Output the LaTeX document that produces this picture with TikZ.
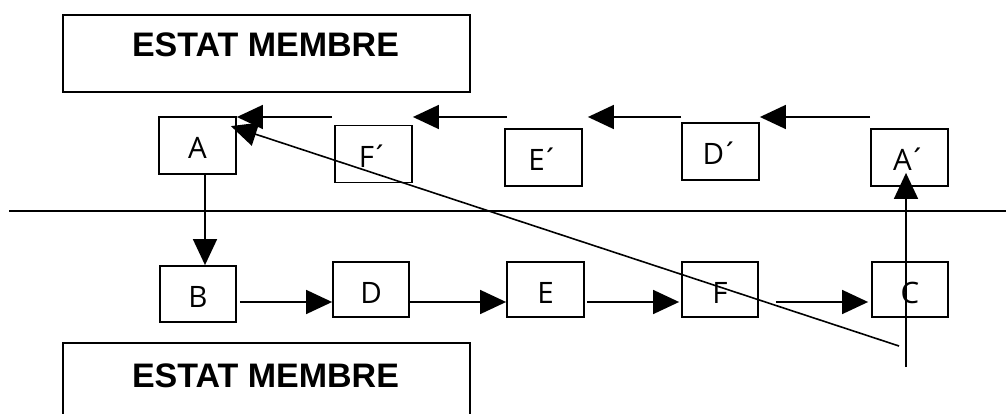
\documentclass[tikz,border=0pt]{standalone}
\usepackage{fontspec}
\setmainfont{Open Sans}
\newfontfamily\titlefont{Liberation Sans}
\usetikzlibrary{arrows.meta}

\newcommand{\primed}[1]{#1\kern-3pt´}

\begin{document}
\begin{tikzpicture}[x=1pt,y=-1pt,
  box/.style={draw, line width=1.8pt, minimum width=77pt, minimum height=57pt,
    inner sep=0pt, text height=27pt, text depth=0pt,
    font=\fontsize{29.5}{32}\selectfont},
  statebox/.style={draw, line width=1.8pt, minimum width=407pt, minimum height=77pt, inner sep=0pt},
  statetext/.style={anchor=base, inner sep=0pt, font=\titlefont\bfseries\fontsize{34}{38}\selectfont},
  conn/.style={line width=1.6pt, -{Triangle[length=26pt,width=24pt]}},
  plain/.style={line width=1.6pt}]

\useasboundingbox (0,0) rectangle (1006,414);
\clip (0,0) rectangle (1006,414);

% the two member states
\node[statebox] (stateT) at (266.5,53.5) {};
\node[statetext] (stateTtext) at (265.5,57) {ESTAT MEMBRE};
\node[statebox] (stateB) at (266.5,381.5) {};
\node[statetext] (stateBtext) at (265.5,387) {ESTAT MEMBRE};

% upper row
\node[box] (A)  at (197.5,145.5) {A};
\node[box] (Fp) at (373.5,154)   {\primed{F}};
\node[box] (Ep) at (543.5,157.5) {\primed{E}};
\node[box] (Dp) at (720.5,151.5) {\primed{D}};
\node[box] (Ap) at (909.5,157.5) {\primed{A}};

% lower row
\node[box, minimum width=76pt, minimum height=56pt] (B) at (198,294) {B};
\node[box, minimum width=76pt, minimum height=55pt] (D) at (371,289.5) {D};
\node[box, minimum width=77pt, minimum height=55pt] (E) at (545.5,289.5) {E};
\node[box, minimum width=76pt, minimum height=55pt] (F) at (720,289.5) {F};
\node[box, minimum width=76pt, minimum height=55pt] (C) at (910,289.5) {C};

% border between the states
\coordinate (sepL) at (9,211);
\coordinate (sepR) at (1006,211);
\draw[plain] (sepL) -- (sepR);

% return chain along the top
\coordinate (toprow) at (0,117);
\draw[conn] ([xshift=-2pt]Fp.west |- toprow) -- (A.east |- toprow);
\draw[conn] ([xshift=3pt]Ep.west |- toprow) -- (Fp.east |- toprow);
\draw[conn] (Dp.west |- toprow) -- ([xshift=5pt]Ep.east |- toprow);
\draw[conn] (Ap.west |- toprow) -- (Dp.east |- toprow);

% forward chain along the bottom
\coordinate (lowrow) at (0,302);
\draw[conn] (A.south -| 205,0) -- (B.north -| 205,0);
\draw[conn] ([xshift=3pt]B.east |- lowrow) -- (D.west |- lowrow);
\draw[conn] (D.east |- lowrow) -- (E.west |- lowrow);
\draw[conn] ([xshift=2pt]E.east |- lowrow) -- ([xshift=-2pt]F.west |- lowrow);
\draw[conn] ([xshift=17pt]F.east |- lowrow) -- ([xshift=-3pt]C.west |- lowrow);

% crossing arrows
\coordinate (cfoot) at (906,367);
\coordinate (aptip) at ([yshift=14pt]Ap.south);
\draw[conn] (cfoot) -- (cfoot |- aptip);
\coordinate (dfoot) at (899,346);
\draw[conn] (dfoot) -- ([xshift=-6pt,yshift=-10pt]A.north east);
\end{tikzpicture}
\end{document}
